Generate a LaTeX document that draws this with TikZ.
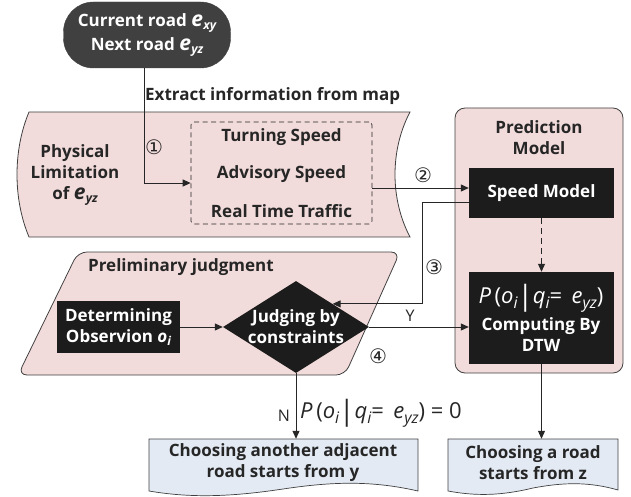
\documentclass[tikz,border=0pt]{standalone}
\usepackage{fontspec}
\usepackage{graphicx}
\setmainfont{Open Sans}
\newfontfamily\symf{DejaVu Sans}
\usetikzlibrary{arrows.meta,shapes.geometric}

\definecolor{pinkf}{HTML}{F2DCDB}
\definecolor{edgec}{HTML}{404040}
\definecolor{termc}{HTML}{404040}
\definecolor{blk}{HTML}{1C1C1C}
\definecolor{docf}{HTML}{E3EAF4}
\definecolor{txtc}{HTML}{262626}

\newcommand\sbx[1]{\raisebox{-0.2em}{\scalebox{0.72}{#1}}}
\newcommand\ee[1]{{\fontsize{21}{21}\selectfont\itshape e}\kern0.3pt\sbx{\itshape #1}}
\newcommand\pexpr{{\itshape P}\,({\itshape o}\sbx{\itshape i}\raisebox{-0.05em}{\fontsize{28}{28}\selectfont\upshape|}{\itshape q}\sbx{\itshape i}= \,{\itshape e}\sbx{\itshape yz})}

\tikzset{
  btxt/.style={font=\fontsize{17}{21}\selectfont\bfseries, align=center, text=txtc, inner sep=0pt},
  wtxt/.style={font=\fontsize{17}{21}\selectfont\bfseries, align=center, text=white, inner sep=0pt},
  circ/.style={font=\symf\fontsize{20}{20}\selectfont, text=txtc, inner sep=0pt},
  arr/.style={draw=txtc, line width=1pt, -{Triangle[length=8pt,width=7pt]}},
  blkbox/.style={fill=blk, draw=none, inner sep=0pt},
}

\begin{document}
\begin{tikzpicture}[x=1pt,y=-1pt]
\useasboundingbox (0,0) rectangle (631,497);

% ---- terminal
\node[fill=termc, draw=edgec, rounded corners=30pt, minimum width=167pt, minimum height=66pt, inner sep=0pt,
      font=\fontsize{17}{24}\selectfont\bfseries, text=white, align=center] (term) at (147,35)
      {Current road \ee{xy}\\Next road \ee{yz}};

% ---- physical limitation (stored data shape)
\path[fill=pinkf, draw=edgec, line width=0.8pt]
  (29,112) -- (410,112) .. controls (390,150) and (390,199) .. (410,237)
  -- (29,237) .. controls (13,199) and (13,150) .. (29,112) -- cycle;
\node[btxt, font=\fontsize{17}{21}\selectfont\bfseries] (phys) at (75,175) {Physical\\Limitation\\of \ee{yz}};

\node[draw=txtc, dash pattern=on 5pt off 3.5pt, line width=0.7pt, rounded corners=3pt, minimum width=181pt, minimum height=102pt, inner sep=0pt] (dash) at (281.5,173) {};
\node[btxt] (t1) at (281.5,137) {Turning Speed};
\node[btxt] (t2) at (281.5,174) {Advisory Speed};
\node[btxt] (t3) at (281.5,211) {Real Time Traffic};

\node[btxt, anchor=west] (extract) at (145,96) {Extract information from map};
\node[circ] (c1) at (154,147) {①};

% ---- prediction model
\node[fill=pinkf, draw=edgec, line width=0.8pt, rounded corners=10pt, minimum width=168pt, minimum height=265pt, inner sep=0pt] (pm) at (539,240.5) {};
\node[btxt] (pmt) at (539,138) {Prediction\\Model};
\node[blkbox, minimum width=145pt, minimum height=50pt] (speed) at (541.5,193) {};
\node[wtxt] at (speed) {Speed Model};
\node[blkbox, minimum width=145pt, minimum height=92pt] (pbox) at (541.5,318) {};
\node[text=white, inner sep=0pt, font=\fontsize{22}{22}\selectfont] (pexp) at (541,298) {\pexpr};
\node[wtxt] (pcomp) at (541,335) {Computing By\\DTW};

% ---- preliminary judgment
\path[fill=pinkf, draw=edgec, line width=0.8pt, rounded corners=9pt]
  (78,252) -- (400,252) -- (345,375) -- (18,375) -- cycle;
\node[btxt] (prel) at (181,267) {Preliminary judgment};
\node[blkbox, minimum width=123pt, minimum height=52pt] (det) at (118.5,327) {};
\node[wtxt] at (det) {Determining\\Observion {\itshape o}\sbx{\itshape i}};
\node[diamond, fill=blk, draw=none, inner sep=0pt, minimum width=146pt, minimum height=92pt] (jd) at (296,327) {};
\node[wtxt] at (jd) {Judging by\\constraints};

% ---- documents
\path[fill=docf, draw=edgec, line width=0.7pt]
  (149,439) -- (418,439) -- (418,491)
  .. controls (370,480) and (330,482) .. (283,489)
  .. controls (230,497) and (190,498) .. (149,491) -- cycle;
\node[inner sep=0pt, minimum width=269pt, minimum height=52pt] (docL) at (283.5,465) {};
\node[btxt] at (283,463) {Choosing another adjacent\\road starts from y};

\path[fill=docf, draw=edgec, line width=0.7pt]
  (448,439) -- (618,439) -- (618,490)
  .. controls (590,482) and (565,482) .. (533,488)
  .. controls (500,496) and (475,496) .. (448,491) -- cycle;
\node[inner sep=0pt, minimum width=170pt, minimum height=52pt] (docR) at (533,465) {};
\node[btxt] at (533,463) {Choosing a road\\starts from z};

% ---- connectors
\coordinate (c1a) at (144,183);
\draw[arr] (term.south -| c1a) |- (dash.west |- c1a);
\coordinate (c2a) at (0,188);
\draw[arr] (dash.east |- c2a) -- (speed.west |- c2a);
\node[circ] (c2) at (423,175) {②};
\coordinate (c3a) at (422,202);
\draw[arr] (speed.west |- c3a) -- (c3a) |- (jd.north east);
\node[circ] (c3) at (434,267) {③};
\draw[arr, dash pattern=on 6pt off 4pt] (speed.south) -- (pbox.north);
\draw[arr] (det.east) -- (jd.west);
\draw[arr] (jd.east) -- (pbox.west |- jd.east);
\node[inner sep=0pt, font=\fontsize{16}{16}\selectfont, text=txtc] (ylab) at (410,316) {Y};
\node[circ] (c4) at (378,356) {④};
\draw[arr] (jd.south) -- (jd.south |- docL.north);
\node[inner sep=0pt, font=\fontsize{16}{16}\selectfont, text=txtc] (nlab) at (284,416) {N};
\node[inner sep=0pt, anchor=west, text=txtc, font=\fontsize{22}{22}\selectfont] (pzero) at (300,413) {\pexpr\ = 0};
\draw[arr] (pbox.south) -- (pbox.south |- docR.north);
\end{tikzpicture}
\end{document}
